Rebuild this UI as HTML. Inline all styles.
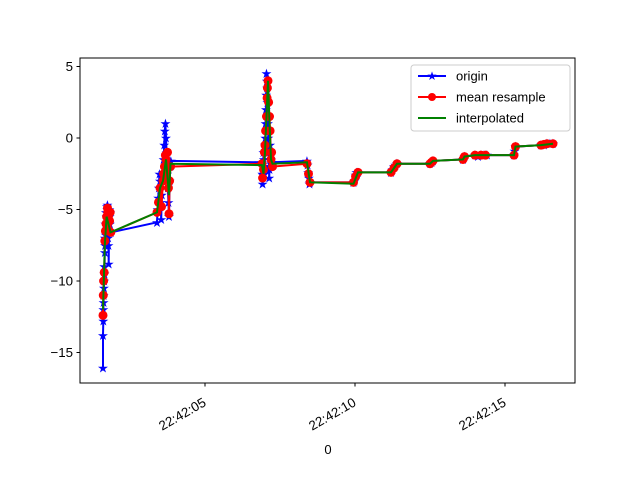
<!DOCTYPE html>
<html><head><meta charset="utf-8"><style>
body{margin:0;background:#fff}
svg{display:block;font-family:"Liberation Sans","DejaVu Sans",sans-serif}
</style></head><body>
<svg id="chart" width="640" height="480">
<rect width="640" height="480" fill="#fff"/>
<g id="plot"></g>
<rect x="80" y="58" width="495" height="325" fill="none" stroke="#000" stroke-width="1"/>
<g id="axes"></g>
<text x="328" y="454" font-size="13" text-anchor="middle">0</text>
<g>
<rect x="411" y="65" width="159" height="66" rx="3" fill="#fff" fill-opacity="0.8" stroke="#ccc"/>
<g><line x1="418" y1="76" x2="446" y2="76" stroke="blue" stroke-width="2"/><text x="432" y="80" font-size="12" fill="blue" text-anchor="middle">★</text><text x="456" y="80.5" font-size="13">origin</text></g>
<g><line x1="418" y1="97" x2="446" y2="97" stroke="red" stroke-width="2"/><circle cx="432" cy="97" r="4" fill="red"/><text x="456" y="101.5" font-size="13">mean resample</text></g>
<g><line x1="418" y1="118" x2="446" y2="118" stroke="green" stroke-width="2"/><text x="456" y="122.5" font-size="13">interpolated</text></g>
</g>
</svg>
<script>
const xTicks=[5,10,15];
const xTickLabels=["22:42:05","22:42:10","22:42:15"];
const yTicks=[5,0,-5,-10,-15];
const yTickLabels=["5","0","\u22125","\u221210","\u221215"];
const originT=[1.6,1.6,1.61,1.61,1.62,1.62,1.63,1.64,1.64,1.65,1.66,1.66,1.67,1.68,1.69,1.7,1.71,1.72,1.73,1.74,1.75,1.76,1.77,1.78,1.79,1.8,1.81,1.82,1.83,1.84,1.86,
3.4,3.42,3.44,3.46,3.48,3.5,3.52,3.54,3.56,3.58,3.6,3.62,3.64,3.66,3.68,3.7,3.72,3.74,3.76,3.78,3.8,3.82,3.84,3.86,
6.9,6.91,6.92,6.93,6.94,6.95,6.96,6.98,7.0,7.01,7.02,7.03,7.04,7.05,7.06,7.07,7.08,7.09,7.1,7.11,7.12,7.13,7.14,7.15,7.16,7.17,7.18,7.19,7.2,7.22,7.25,
8.4,8.42,8.44,8.46,8.48,8.5,9.95,9.98,10.02,10.05,10.1,11.2,11.25,11.3,11.35,11.4,12.5,12.55,12.6,13.6,13.65,14.0,14.1,14.2,14.3,14.4,15.3,15.32,15.35,16.2,16.3,16.4,16.5,16.6];
const originV=[-16.1,-13.8,-12.8,-12.0,-11.5,-11.0,-10.5,-10.0,-9.0,-9.5,-8.0,-7.0,-7.5,-6.0,-6.8,-5.2,-6.5,-5.5,-4.8,-5.0,-4.7,-6.0,-7.0,-7.5,-8.8,-6.5,-5.0,-5.5,-6.0,-5.2,-6.6,
-5.9,-5.0,-4.2,-3.5,-2.5,-3.0,-4.5,-5.7,-4.0,-3.0,-2.4,-1.5,-0.5,0.5,1.0,0.0,-1.0,-2.5,-3.5,-4.5,-5.5,-3.0,-2.0,-1.6,
-1.7,-2.5,-3.2,-2.6,-2.0,-1.0,-1.5,-2.5,-0.5,0.0,1.0,2.0,3.0,4.5,4.0,3.5,2.5,1.5,1.0,0.0,-1.0,-2.0,-2.8,-2.2,-1.5,-0.5,-1.0,-2.0,-1.5,-1.7,-1.7,
-1.6,-1.9,-2.4,-2.8,-3.2,-3.1,-3.1,-3.0,-2.6,-2.4,-2.4,-2.4,-2.2,-2.0,-1.9,-1.8,-1.8,-1.7,-1.6,-1.5,-1.3,-1.2,-1.3,-1.2,-1.2,-1.2,-1.2,-0.9,-0.6,-0.5,-0.5,-0.4,-0.4,-0.4];
const meanT=[1.6,1.61,1.62,1.64,1.66,1.68,1.7,1.72,1.75,1.76,1.78,1.8,1.82,1.84,1.86,3.4,3.45,3.5,3.55,3.6,3.62,3.65,3.68,3.7,3.72,3.75,3.78,3.8,3.82,3.85,6.9,6.92,6.95,6.98,7.0,7.02,7.05,7.07,7.08,7.1,7.12,7.15,7.17,7.2,7.22,7.25,8.4,8.45,8.5,9.95,10.02,10.1,11.2,11.3,11.4,12.5,12.55,12.6,13.6,13.65,14.0,14.2,14.35,15.3,15.35,16.2,16.3,16.4,16.6];
const meanV=[-12.4,-11.0,-10.0,-9.4,-7.2,-6.5,-6.0,-5.5,-4.9,-5.2,-5.5,-6.5,-5.8,-5.2,-6.6,-5.2,-4.5,-3.5,-4.8,-3.0,-2.5,-2.0,-1.2,-1.5,-2.5,-1.0,-3.5,-5.3,-3.0,-2.0,-1.8,-2.8,-2.2,-1.0,-0.5,0.5,1.5,2.8,3.5,4.0,2.5,1.5,0.5,-1.5,-1.0,-2.0,-1.8,-2.5,-3.1,-3.1,-2.7,-2.4,-2.4,-2.1,-1.8,-1.8,-1.7,-1.6,-1.5,-1.3,-1.2,-1.2,-1.2,-1.2,-0.6,-0.5,-0.45,-0.4,-0.4];
const interpT=[1.6,1.66,1.72,1.78,1.85,3.4,3.5,3.6,3.7,3.8,3.85,6.9,6.95,7.0,7.05,7.1,7.15,7.2,7.25,8.4,8.5,9.95,10.1,11.2,11.4,12.5,12.6,13.6,13.65,14.0,14.4,15.3,15.35,16.2,16.6];
const interpV=[-12.0,-7.5,-5.5,-6.0,-6.6,-5.2,-3.5,-3.0,-1.5,-4.0,-1.8,-1.9,-2.5,-1.0,1.5,4.0,1.0,-1.5,-1.8,-1.7,-3.1,-3.2,-2.4,-2.4,-1.8,-1.8,-1.6,-1.5,-1.3,-1.2,-1.2,-1.2,-0.6,-0.5,-0.4];
const NS="http://www.w3.org/2000/svg";
function X(t){return 55+30*t;}
function Y(v){return 138-14.3*v;}
const plot=document.getElementById('plot'),axes=document.getElementById('axes');
function mk(tag,attrs,parent){const e=document.createElementNS(NS,tag);for(const k in attrs)e.setAttribute(k,attrs[k]);parent.appendChild(e);return e;}
function pts(T,V){return T.map((t,i)=>X(t)+","+Y(V[i])).join(" ");}
let l=mk('polyline',{points:pts(originT,originV),fill:'none',stroke:'blue','stroke-width':2},plot);


originT.forEach((t,i)=>{const s=mk('text',{x:X(t),y:Y(originV[i])+4.5,'font-size':13,fill:'blue','text-anchor':'middle'},plot);s.textContent='★';

});
l=mk('polyline',{points:pts(meanT,meanV),fill:'none',stroke:'red','stroke-width':2},plot);


meanT.forEach((t,i)=>{const c=mk('circle',{cx:X(t),cy:Y(meanV[i]),r:4.5,fill:'red'},plot);

});
l=mk('polyline',{points:pts(interpT,interpV),fill:'none',stroke:'green','stroke-width':2},plot);


xTicks.forEach((t,i)=>{const x=X(t);mk('line',{x1:x,y1:383,x2:x,y2:386.5,stroke:'#000'},axes);
const tx=mk('text',{x:x+2,y:405,'font-size':13.3,'text-anchor':'end',transform:`rotate(-30 ${x+2} 405)`},axes);tx.textContent=xTickLabels[i];

});
yTicks.forEach((v,i)=>{const y=Y(v);mk('line',{x1:76.5,y1:y,x2:80,y2:y,stroke:'#000'},axes);
const tx=mk('text',{x:73,y:y+4.5,'font-size':13.3,'text-anchor':'end'},axes);tx.textContent=yTickLabels[i];

});
</script>
</body></html>
